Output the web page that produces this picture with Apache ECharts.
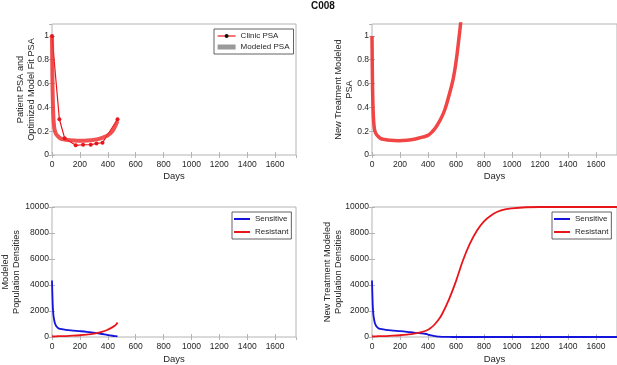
<!DOCTYPE html>
<html>
<head>
<meta charset="utf-8">
<script src="https://cdn.jsdelivr.net/npm/echarts@6/dist/echarts.min.js"></script>
<style>
  html, body { margin: 0; padding: 0; background: #fff; }
  #chart { width: 617px; height: 365px; }
</style>
</head>
<body>
<div id="chart"></div>
<script>
// clinic PSA (normalised) measured on treatment
const clinicDays = [0, 53, 91, 170, 223, 278, 319, 362, 470]
const clinicPsa = [1.0, 0.30, 0.14, 0.081, 0.086, 0.086, 0.097, 0.103, 0.30]

// fitted model PSA over the clinic window
const modelDays = [0, 3, 6, 10, 15, 20, 30, 45, 60, 90, 130, 180, 230, 280, 330, 370, 400, 430, 450, 470]
const modelPsa = [1.0, 0.65, 0.45, 0.32, 0.24, 0.205, 0.175, 0.155, 0.14, 0.13, 0.123, 0.12, 0.12, 0.124, 0.133, 0.148, 0.165, 0.195, 0.235, 0.285]

// new treatment model PSA
const newDays = [0, 3, 6, 10, 15, 20, 30, 45, 60, 90, 130, 190, 250, 310, 360, 400, 430, 460, 490, 520, 550, 580, 600, 620, 640]
const newPsa = [1.0, 0.65, 0.45, 0.32, 0.24, 0.205, 0.175, 0.155, 0.14, 0.13, 0.123, 0.12, 0.124, 0.135, 0.15, 0.165, 0.195, 0.24, 0.30, 0.38, 0.50, 0.64, 0.78, 0.97, 1.18]

// population densities over the clinic window
const popDays = [0, 3, 6, 10, 15, 20, 30, 45, 60, 100, 150, 200, 250, 300, 350, 400, 450, 470]
const sensitivePop = [4350, 3200, 2300, 1700, 1350, 1100, 850, 680, 620, 540, 490, 450, 400, 330, 250, 150, 70, 40]
const resistantPop = [40, 42, 44, 46, 50, 52, 55, 60, 65, 75, 100, 135, 185, 255, 370, 560, 860, 1120]

// population densities under the new treatment
const newPopDays = [0, 3, 6, 10, 15, 20, 30, 45, 60, 100, 150, 200, 250, 300, 350, 380, 400, 420, 450, 480, 500, 550, 600, 650, 700, 750, 800, 850, 900, 950, 1000, 1100, 1200, 1400, 1750]
const newSensitivePop = [4350, 3200, 2300, 1700, 1350, 1100, 850, 680, 620, 540, 490, 450, 400, 340, 290, 250, 190, 130, 60, 25, 10, 3, 0, 0, 0, 0, 0, 0, 0, 0, 0, 0, 0, 0, 0]
const newResistantPop = [40, 42, 44, 46, 50, 52, 55, 60, 65, 75, 100, 135, 185, 255, 370, 460, 560, 700, 1000, 1400, 1750, 2900, 4300, 5900, 7200, 8200, 8900, 9350, 9650, 9820, 9900, 9980, 10000, 10000, 10000]

const FONT = 'Liberation Sans'
const BOX = '#b4b4b4'
const TXT = '#262626'
const RED = '#e8161b'
const BLUE = '#1414dc'

function pairs(xs, ys) {
  return xs.map((x, i) => [x, ys[i]])
}

const plain = v => String(v)

const grids = [
  { left: 52, top: 24, width: 244, height: 131 },
  { left: 372, top: 24, width: 245, height: 131 },
  { left: 52, top: 207, width: 244, height: 130 },
  { left: 372, top: 207, width: 245, height: 130 },
].map(g => ({
  ...g,
  show: true,
  borderColor: BOX,
  borderWidth: 1,
  backgroundColor: '#fff',
  containLabel: false,
  outerBoundsMode: 'none',
}))

function xAxis(gi, top) {
  return {
    type: 'value',
    gridIndex: gi,
    position: top ? 'top' : 'bottom',
    min: 0,
    max: 1750,
    interval: 200,
    name: top ? '' : 'Days',
    nameLocation: 'middle',
    nameGap: gi < 2 ? 16 : 17,
    nameMoveOverlap: false,
    nameTextStyle: { fontFamily: FONT, fontSize: 9.5, color: TXT },
    axisLine: { show: false },
    axisTick: { show: true, inside: true, length: 3, lineStyle: { color: BOX } },
    axisLabel: { show: !top, showMaxLabel: false, margin: 5, fontFamily: FONT, fontSize: 8.5, color: TXT, formatter: plain },
    splitLine: { show: false },
  }
}

function yAxis(gi, right, name, gap) {
  const psa = gi < 2
  return {
    type: 'value',
    gridIndex: gi,
    position: right ? 'right' : 'left',
    min: 0,
    max: psa ? 1.1 : 10000,
    interval: psa ? 0.2 : 2000,
    name: right ? '' : name,
    nameLocation: 'middle',
    nameGap: gap,
    nameMoveOverlap: false,
    nameTextStyle: { fontFamily: FONT, fontSize: 9.2, color: TXT, lineHeight: 11 },
    axisLine: { show: false },
    axisTick: { show: true, inside: true, length: 3, lineStyle: { color: BOX } },
    axisLabel: { show: !right, showMaxLabel: !psa, margin: 3, fontFamily: FONT, fontSize: 8.5, color: TXT, formatter: plain },
    splitLine: { show: false },
  }
}

const yNames = [
  ['Patient PSA and\nOptimized Model Fit PSA', 15.5],
  ['New Treatment Modeled\nPSA', 17],
  ['Modeled\nPopulation Densities', 30],
  ['New Treatment Modeled\nPopulation Densities', 28],
]

const legendBase = {
  orient: 'vertical',
  backgroundColor: '#fff',
  borderColor: '#3a3a3a',
  borderWidth: 0.8,
  padding: [3, 4, 3, 3],
  itemGap: 3,
  itemWidth: 18,
  itemHeight: 5,
  textStyle: { fontFamily: FONT, fontSize: 8, color: TXT },
}

const popLegendData = [
  { name: 'Sensitive', icon: 'rect' },
  { name: 'Resistant', icon: 'rect' },
]

const option = {
  animation: false,
  backgroundColor: '#fff',
  title: {
    text: 'C008',
    left: 311,
    top: 1,
    padding: 0,
    textStyle: { fontFamily: FONT, fontSize: 10, fontWeight: 'bold', color: '#111' },
  },
  grid: grids,
  xAxis: [0, 1, 2, 3].map(i => xAxis(i, false)).concat([0, 1, 2, 3].map(i => xAxis(i, true))),
  yAxis: [0, 1, 2, 3].map(i => yAxis(i, false, yNames[i][0], yNames[i][1]))
    .concat([0, 1, 2, 3].map(i => yAxis(i, true, '', 0))),
  legend: [
    {
      ...legendBase,
      left: 214,
      top: 29,
      data: [
        { name: 'Clinic PSA', itemStyle: { color: '#111' }, lineStyle: { color: RED, width: 1.2 } },
        { name: 'Modeled PSA', icon: 'rect', itemStyle: { color: '#9a9a9a' }, lineStyle: { color: '#9a9a9a', width: 3 } },
      ],
    },
    { ...legendBase, itemWidth: 16, itemHeight: 2, itemGap: 5, padding: [3, 3, 3, 2], left: 232, top: 212, data: popLegendData },
    { ...legendBase, itemWidth: 16, itemHeight: 2, itemGap: 5, padding: [3, 3, 3, 2], left: 552, top: 212, data: popLegendData },
  ],
  series: [
    {
      name: 'Clinic PSA',
      type: 'line',
      xAxisIndex: 0,
      yAxisIndex: 0,
      data: pairs(clinicDays, clinicPsa),
      symbol: 'circle',
      symbolSize: 4,
      lineStyle: { color: RED, width: 1.2 },
      itemStyle: { color: RED },
    },
    {
      name: 'Modeled PSA',
      type: 'line',
      xAxisIndex: 0,
      yAxisIndex: 0,
      data: pairs(modelDays, modelPsa),
      symbol: 'none',
      smooth: 0.4,
      lineStyle: { color: 'rgba(238,50,50,0.85)', width: 4 },
      itemStyle: { color: 'rgba(238,50,50,0.85)' },
    },
    {
      name: 'New Treatment PSA',
      type: 'line',
      xAxisIndex: 1,
      yAxisIndex: 1,
      data: pairs(newDays, newPsa),
      symbol: 'none',
      smooth: 0.4,
      lineStyle: { color: 'rgba(238,50,50,0.9)', width: 3.5 },
    },
    {
      name: 'Sensitive',
      type: 'line',
      xAxisIndex: 2,
      yAxisIndex: 2,
      data: pairs(popDays, sensitivePop),
      symbol: 'none',
      smooth: 0.4,
      lineStyle: { color: BLUE, width: 1.8 },
      itemStyle: { color: BLUE },
    },
    {
      name: 'Resistant',
      type: 'line',
      xAxisIndex: 2,
      yAxisIndex: 2,
      data: pairs(popDays, resistantPop),
      symbol: 'none',
      smooth: 0.4,
      lineStyle: { color: RED, width: 1.8 },
      itemStyle: { color: RED },
    },
    {
      name: 'Sensitive',
      type: 'line',
      xAxisIndex: 3,
      yAxisIndex: 3,
      data: pairs(newPopDays, newSensitivePop),
      symbol: 'none',
      smooth: 0.4,
      lineStyle: { color: BLUE, width: 1.8 },
      itemStyle: { color: BLUE },
    },
    {
      name: 'Resistant',
      type: 'line',
      xAxisIndex: 3,
      yAxisIndex: 3,
      data: pairs(newPopDays, newResistantPop),
      symbol: 'none',
      smooth: 0.4,
      lineStyle: { color: RED, width: 1.8 },
      itemStyle: { color: RED },
    },
  ],
}

const chart = echarts.init(document.getElementById('chart'), null, { renderer: 'canvas' })
chart.setOption(option)
window.addEventListener('resize', () => chart.resize())
</script>
</body>
</html>
